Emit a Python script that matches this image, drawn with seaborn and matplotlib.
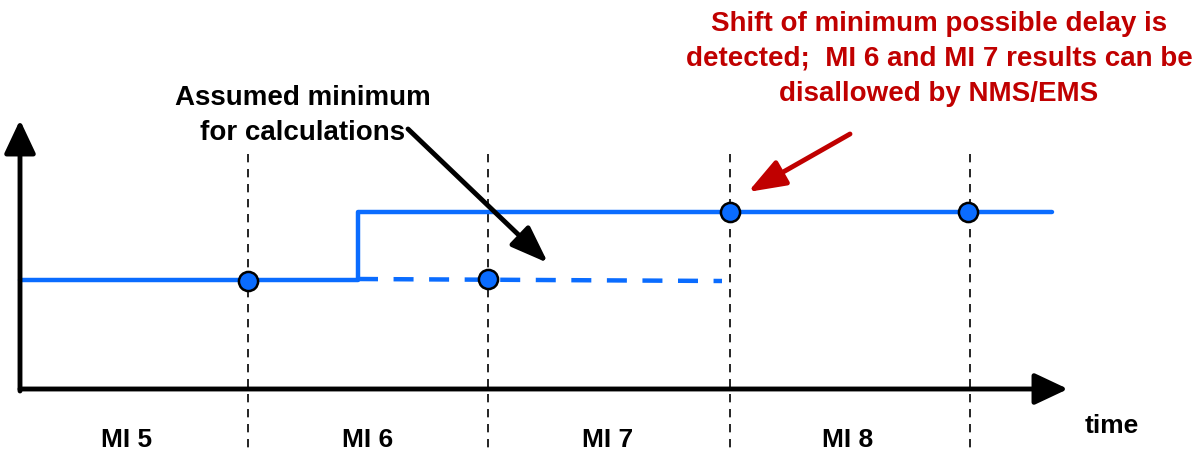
import matplotlib
matplotlib.use("Agg")
import matplotlib.pyplot as plt
import seaborn as sns
import pandas as pd

# ---- data (diagram units: pixel-like positions) ----
mi_labels = ["MI 5", "MI 6", "MI 7", "MI 8"]
mi_label_x = [127, 368, 608, 848]
boundary_x = [248, 488, 730, 970]
# minimum delay level (solid step line)
step_x = [20, 358, 358, 1052]
step_y = [281, 281, 213, 213]
# assumed minimum (dashed continuation)
assumed_x = [358, 722]
assumed_y = [280, 282]
# measurement points
point_x = [248, 488, 730, 968]
point_y = [282, 280, 213, 213]

sns.set_theme(style="white")
plt.rcParams['font.family'] = ['Liberation Sans Narrow', 'Liberation Sans', 'DejaVu Sans']

fig = plt.figure(figsize=(11.98, 4.56), dpi=100)
ax = fig.add_axes([0, 0, 1, 1])
ax.set_xlim(0, 1198)
ax.set_ylim(456, 0)
ax.axis("off")

blue = "#0A6CFF"

# dashed interval boundaries
for bx in boundary_x:
    ax.plot([bx, bx], [155, 452], color="black", lw=1.2, ls=(0, (5, 4)), zorder=1)

# axes arrows
axis_arrow = dict(arrowstyle="-|>,head_length=1.7,head_width=0.8",
                  color="black", lw=3.5, shrinkA=0, shrinkB=0)
ax.annotate("", xy=(20, 121), xytext=(20, 392), arrowprops=axis_arrow, zorder=3)
ax.annotate("", xy=(1068, 390), xytext=(20, 390), arrowprops=axis_arrow, zorder=3)

df_step = pd.DataFrame({"x": step_x, "y": step_y})
sns.lineplot(data=df_step, x="x", y="y", sort=False, estimator=None, color=blue,
             lw=3.2, ax=ax, zorder=2)
df_ass = pd.DataFrame({"x": assumed_x, "y": assumed_y})
sns.lineplot(data=df_ass, x="x", y="y", sort=False, estimator=None, color=blue,
             lw=3.2, ls=(0, (4.5, 3.5)), ax=ax, zorder=2)
df_pts = pd.DataFrame({"x": point_x, "y": point_y})
sns.scatterplot(data=df_pts, x="x", y="y", s=190, color=blue, edgecolor="black",
                linewidth=1.8, ax=ax, zorder=4)
ax.set_xlabel("")
ax.set_ylabel("")
ax.set_xlim(0, 1198)
ax.set_ylim(456, 0)

for lbl, lx in zip(mi_labels, mi_label_x):
    ax.text(lx, 440, lbl, ha="center", va="center", fontsize=19,
            fontweight="bold", color="black")
ax.text(1112, 426, "time", ha="center", va="center", fontsize=19,
        fontweight="bold", color="black")

ax.text(303, 116, "Assumed minimum\nfor calculations", ha="center", va="center",
        fontsize=20, fontweight="bold", linespacing=1.45, color="black")
ax.annotate("", xy=(548, 264), xytext=(408, 130),
            arrowprops=dict(arrowstyle="-|>,head_length=1.9,head_width=0.7",
                            color="black", lw=3.5, shrinkA=0, shrinkB=0))

red = "#C00000"
ax.text(939, 59, "Shift of minimum possible delay is\ndetected;  MI 6 and MI 7 results can be\ndisallowed by NMS/EMS",
        ha="center", va="center", fontsize=20, fontweight="bold", color=red,
        linespacing=1.45)
ax.annotate("", xy=(748, 193), xytext=(850, 135),
            arrowprops=dict(arrowstyle="-|>,head_length=1.9,head_width=0.7",
                            color=red, lw=3.5, shrinkA=0, shrinkB=0))

fig.savefig("out.png", dpi=100)
